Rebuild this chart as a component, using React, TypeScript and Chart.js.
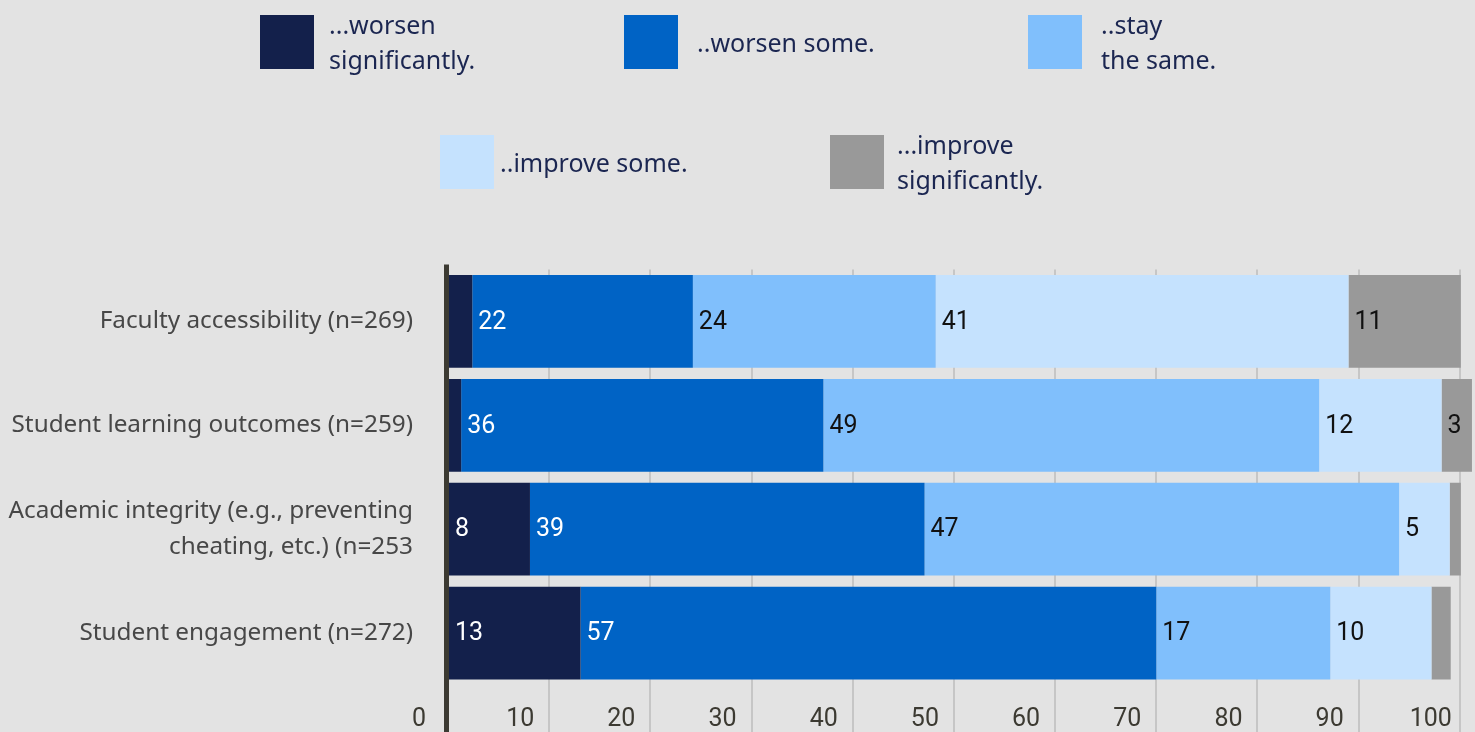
import React, { useEffect, useRef } from "react";
import { Chart, registerables } from "chart.js";

Chart.register(...registerables);

const categories: (string | string[])[] = [
  "Faculty accessibility (n=269)",
  "Student learning outcomes (n=259)",
  ["Academic integrity (e.g., preventing", "cheating, etc.) (n=253"],
  "Student engagement (n=272)",
];

const seriesLabels = [
  ["...worsen", "significantly."],
  ["..worsen some."],
  ["..stay", "the same."],
  ["..improve some."],
  ["...improve", "significantly."],
];

const worsenSignificantly = [2.4, 1.3, 8.1, 13.1];
const worsenSome = [21.8, 35.8, 39.0, 56.9];
const staySame = [24.0, 49.0, 46.9, 17.2];
const improveSome = [40.8, 12.1, 5.0, 10.0];
const improveSignificantly = [11.1, 3.0, 1.1, 1.9];

const seriesValues = [worsenSignificantly, worsenSome, staySame, improveSome, improveSignificantly];
const seriesColors = ["#13204b", "#0063c5", "#80bffc", "#c5e2fe", "#999999"];
const labelColors = ["#ffffff", "#ffffff", "#111111", "#111111", "#111111"];

const xTicks = [0, 10, 20, 30, 40, 50, 60, 70, 80, 90, 100];

const legendPlacement = [
  { left: 260, top: 15, gap: 15 },
  { left: 624, top: 15, gap: 19 },
  { left: 1028, top: 15, gap: 19 },
  { left: 440, top: 135, gap: 6 },
  { left: 830, top: 135, gap: 13 },
];

const valueLabelPlugin = {
  id: "valueLabels",
  afterDatasetsDraw(chart: any) {
    const ctx = chart.ctx;
    const area = chart.chartArea;
    ctx.save();
    ctx.beginPath();
    ctx.rect(area.left, area.top, area.right - area.left, area.bottom - area.top);
    ctx.clip();
    ctx.font = "25px Roboto";
    ctx.textAlign = "left";
    ctx.textBaseline = "middle";
    chart.data.datasets.forEach((ds: any, di: number) => {
      const meta = chart.getDatasetMeta(di);
      meta.data.forEach((bar: any, i: number) => {
        const v = ds.data[i];
        if (v < 2.5) return;
        const left = Math.min(bar.x, bar.base);
        ctx.fillStyle = labelColors[di];
        ctx.fillText(String(Math.round(v)), left + 6, bar.y + 1);
      });
    });
    ctx.restore();
  },
};

const axisLinePlugin = {
  id: "axisLine",
  afterDatasetsDraw(chart: any) {
    const ctx = chart.ctx;
    const x = chart.scales.x.getPixelForValue(0);
    ctx.save();
    ctx.fillStyle = "#3c3a32";
    ctx.fillRect(x - 4, chart.chartArea.top - 5, 5, chart.height);
    ctx.restore();
  },
};

export default function App() {
  const canvasRef = useRef<HTMLCanvasElement | null>(null);

  useEffect(() => {
    if (!canvasRef.current) return;
    const chart = new Chart(canvasRef.current, {
      type: "bar",
      data: {
        labels: categories,
        datasets: seriesValues.map((vals, i) => ({
          label: seriesLabels[i].join(" "),
          data: vals,
          backgroundColor: seriesColors[i],
          borderWidth: 0,
          barPercentage: 0.894,
          categoryPercentage: 1,
        })),
      },
      options: {
        indexAxis: "y",
        animation: false,
        responsive: false,
        layout: { padding: { top: 269.5, left: 0, right: 0, bottom: 0 } },
        plugins: {
          legend: { display: false },
          tooltip: { enabled: false },
        },
        scales: {
          x: {
            stacked: true,
            min: 0,
            max: 101.5,
            afterBuildTicks: (scale: any) => {
              scale.ticks = xTicks.map((v) => ({ value: v }));
            },
            afterFit: (scale: any) => {
              scale.height = 47;
              scale.paddingLeft = 0;
              scale.paddingRight = 0;
            },
            grid: {
              color: "#c6c6c6",
              lineWidth: 2,
              drawTicks: true,
              tickLength: 47,
            },
            border: { display: false },
            ticks: {
              autoSkip: false,
              maxRotation: 0,
              labelOffset: -29,
              padding: -27,
              color: "#3c3a32",
              font: { family: "Roboto", size: 25 },
            },
          },
          y: {
            stacked: true,
            grid: { display: false, drawTicks: true, tickLength: 35 },
            border: { display: false },
            afterFit: (scale: any) => {
              scale.width = 448;
              scale.paddingTop = 0;
              scale.paddingBottom = 0;
            },
            ticks: {
              padding: 0,
              color: "#474747",
              font: { family: "'Noto Sans'", size: 24.3, lineHeight: 1.5 },
            },
          },
        },
      },
      plugins: [axisLinePlugin, valueLabelPlugin],
    } as any);
    return () => chart.destroy();
  }, []);

  return (
    <div
      style={{
        position: "fixed",
        left: 0,
        top: 0,
        width: 1475,
        height: 732,
        background: "#e3e3e3",
        overflow: "hidden",
      }}
    >
      <canvas ref={canvasRef} width={1475} height={732} style={{ position: "absolute", left: 0, top: 0 }} />
      {seriesLabels.map((lines, i) => (
        <div
          key={i}
          style={{
            position: "absolute",
            left: legendPlacement[i].left,
            top: legendPlacement[i].top,
            height: 54,
            display: "flex",
            alignItems: "center",
          }}
        >
          <div style={{ width: 54, height: 54, background: seriesColors[i], flex: "none" }} />
          <div
            style={{
              marginLeft: legendPlacement[i].gap,
              fontFamily: "'Noto Sans'",
              fontStretch: "condensed",
              fontSize: 25,
              lineHeight: "35px",
              color: "#1b2651",
              whiteSpace: "nowrap",
            }}
          >
            {lines.map((l, j) => (
              <div key={j}>{l}</div>
            ))}
          </div>
        </div>
      ))}
    </div>
  );
}
